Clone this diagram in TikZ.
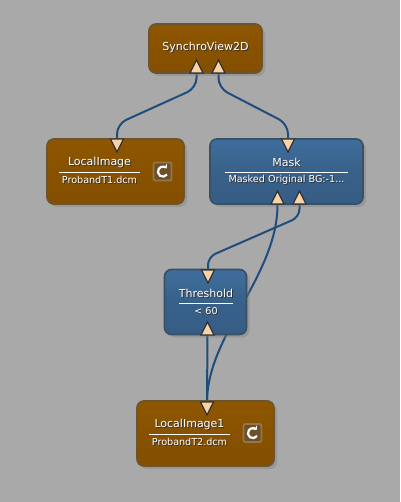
\documentclass[tikz,border=0pt]{standalone}
\usepackage{fontspec}
\setsansfont{DejaVu Sans}
\usepackage{xcolor}
\usetikzlibrary{calc, shapes.geometric, shadows, arrows.meta}

\definecolor{page grey}{HTML}{A9A9A9}
\definecolor{wire blue}{HTML}{1F4E7C}
\definecolor{pin cream}{HTML}{F8D3A8}
\definecolor{orange edge}{HTML}{6A5530}
\definecolor{blue edge}{HTML}{3A5064}
\definecolor{icon fill}{HTML}{6E5028}
\definecolor{icon edge}{HTML}{96764A}

\pgfdeclareverticalshading{orange box}{100bp}{rgb(0bp)=(.63,.39,0); rgb(4bp)=(.50,.30,0); rgb(50bp)=(.53,.32,0); rgb(90bp)=(.58,.35,0); rgb(100bp)=(.72,.44,0)}
\pgfdeclareverticalshading{blue box}{100bp}{rgb(0bp)=(.27,.45,.62); rgb(4bp)=(.20,.35,.50); rgb(50bp)=(.22,.38,.54); rgb(90bp)=(.26,.46,.66); rgb(100bp)=(.33,.54,.75)}

\newcommand{\shadowed}[1]{\leavevmode\rlap{\hspace{1pt}\raisebox{-1pt}{\color{black!80}#1}}#1}

\tikzset{
	box/.style = {rectangle, rounded corners = 7pt, line width = 1.7pt, inner sep = 0pt, shade, drop shadow = {shadow xshift = 3pt, shadow yshift = -3pt, opacity = 0.4}},
	orangebox/.style = {box, draw = orange edge, shading = orange box},
	bluebox/.style = {box, draw = blue edge, shading = blue box},
	title/.style = {text = white, font = \sffamily\fontsize{11}{11}\selectfont, inner sep = 0pt},
	subtitle/.style = {text = white, font = \sffamily\fontsize{9.6}{10}\selectfont, inner sep = 0pt},
	rule/.style = {white, line width = 1pt},
	pin/.style = {isosceles triangle, isosceles triangle stretches, draw = black!80, fill = pin cream, line width = 1.2pt, minimum width = 13pt, minimum height = 13pt, inner sep = 0pt, outer sep = 0pt, anchor = lower side},
	pinup/.style = {pin, shape border rotate = 90},
	pindown/.style = {pin, shape border rotate = 270},
	wire/.style = {wire blue, line width = 2pt},
	refresh/.style = {rectangle, rounded corners = 2pt, draw = icon edge, fill = icon fill, line width = 1.8pt, minimum width = 18pt, minimum height = 18pt, inner sep = 0pt}
}

\pgfdeclarelayer{wires}
\pgfsetlayers{wires,main}

\begin{document}
\begin{tikzpicture}[x = 1pt, y = -1pt]
	\useasboundingbox (0,0) rectangle (400,502);

	\node [orangebox, minimum width = 113pt, minimum height = 49pt] (synchro view) at (205.5,48.5) {};
	\node [orangebox, minimum width = 137pt, minimum height = 65pt] (local image) at (115.5,171.5) {};
	\node [bluebox, minimum width = 153pt, minimum height = 65pt] (mask) at (286.5,171.5) {};
	\node [bluebox, minimum width = 82pt, minimum height = 65pt] (threshold) at (205.5,302) {};
	\node [orangebox, minimum width = 137pt, minimum height = 65pt] (local image 1) at (205.5,433.5) {};

	\node [title] (synchro view title) at (205.5,47.5) {\shadowed{SynchroView2D}};
	\node [title] (local image title) at (99.5,162.5) {\shadowed{LocalImage}};
	\node [subtitle] (local image file) at (99.5,180.5) {\shadowed{ProbandT1.dcm}};
	\node [title] (mask title) at (286.5,162.5) {\shadowed{Mask}};
	\node [subtitle] (mask info) at (286.5,180.5) {\shadowed{Masked Original BG:-1...}};
	\node [title] (threshold title) at (206,293.5) {\shadowed{Threshold}};
	\node [subtitle] (threshold info) at (206,311.5) {\shadowed{< 60}};
	\node [title] (local image 1 title) at (189.5,424.5) {\shadowed{LocalImage1}};
	\node [subtitle] (local image 1 file) at (189.5,442.5) {\shadowed{ProbandT2.dcm}};

	\draw [rule] (59,172.5) -- (140,172.5);
	\draw [rule] (225,172.5) -- (348,172.5);
	\draw [rule] (179,303.5) -- (233,303.5);
	\draw [rule] (149,434.5) -- (230,434.5);

	\node [pinup] (synchro in a) at (196.5,73) {};
	\node [pinup] (synchro in b) at (218.5,73) {};
	\node [pindown] (local image out) at (117,139) {};
	\node [pindown] (mask out) at (288,139) {};
	\node [pinup] (mask in a) at (277.5,204) {};
	\node [pinup] (mask in b) at (299.5,204) {};
	\node [pindown] (threshold out) at (208,270) {};
	\node [pinup] (threshold in) at (207.5,335) {};
	\node [pindown] (local image 1 out) at (207,402) {};

	\node [refresh] (refresh a) at (162.5,171.5) {};
	\node [refresh] (refresh b) at (252.5,433) {};
	\foreach \icon in {refresh a, refresh b} {
		\draw [white, line width = 2.2pt, -{Stealth[length = 3.5pt, width = 6pt]}] ($ (\icon.center) + (4.5,3) $) arc [start angle = -35, end angle = -320, radius = 5pt];
	}

	\begin{pgfonlayer}{wires}
		\fill [page grey] (0,0) rectangle (400,502);
		\draw [wire, rounded corners = 10pt] (synchro in a.lower side) -- ++(0,15) -- ($ (local image out.lower side) + (0,-15) $) -- (local image out.lower side);
		\draw [wire, rounded corners = 10pt] (synchro in b.lower side) -- ++(0,15) -- ($ (mask out.lower side) + (0,-15) $) -- (mask out.lower side);
		\draw [wire, rounded corners = 8pt] (mask in b.lower side) -- ++(0,13) -- ($ (threshold out.lower side) + (0,-13) $) -- (threshold out.lower side);
		\draw [wire] (mask in a.lower side) .. controls (278,275) and (207,335) .. (local image 1 out.lower side);
		\draw [wire] (threshold in.lower side) -- (local image 1 out.lower side);
	\end{pgfonlayer}
\end{tikzpicture}
\end{document}
